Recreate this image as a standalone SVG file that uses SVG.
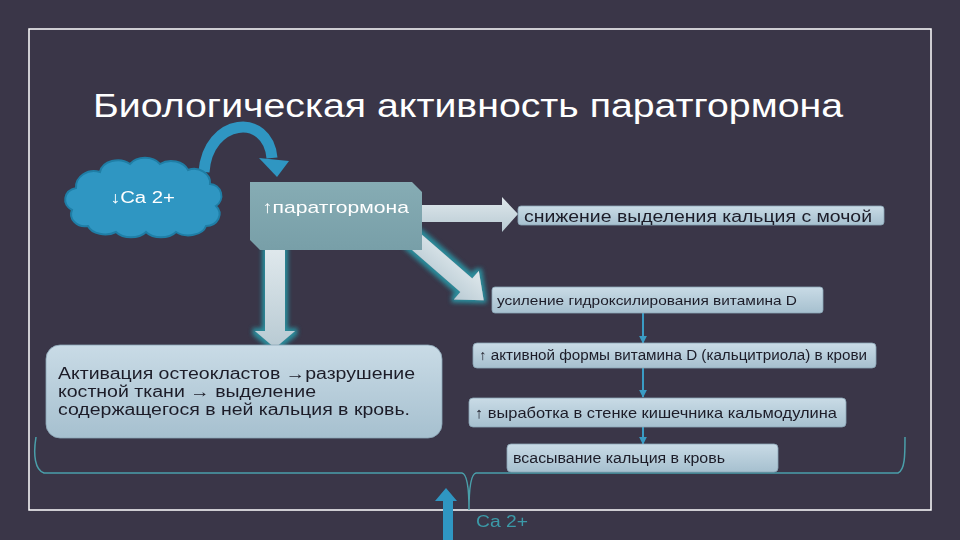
<svg xmlns="http://www.w3.org/2000/svg" width="960" height="540" viewBox="0 0 960 540">
<defs>
<style>
text{font-family:"Liberation Sans","DejaVu Sans",sans-serif;}
.w{fill:#ffffff;}
.d{fill:#1c1c28;}
.box{fill:url(#boxg);stroke:#8aa6b6;stroke-width:0.8;}
.conn{stroke:#3a9cc4;stroke-width:2;fill:none;}
.blue{fill:#2f96c2;}
</style>
<linearGradient id="boxg" x1="0" y1="0" x2="0" y2="1">
<stop offset="0" stop-color="#c9dbe6"/>
<stop offset="1" stop-color="#a6c0cf"/>
</linearGradient>
<linearGradient id="arrg" x1="0" y1="0" x2="0" y2="1">
<stop offset="0" stop-color="#dfe8ec"/>
<stop offset="1" stop-color="#b8cad3"/>
</linearGradient>
<linearGradient id="pthg" x1="0" y1="0" x2="0" y2="1">
<stop offset="0" stop-color="#86acb4"/>
<stop offset="1" stop-color="#789fa8"/>
</linearGradient>
<filter id="glow" x="-30%" y="-30%" width="160%" height="160%">
<feMorphology in="SourceAlpha" operator="dilate" radius="3" result="d"/>
<feGaussianBlur in="d" stdDeviation="2" result="b"/>
<feFlood flood-color="#2a8d9c"/>
<feComposite in2="b" operator="in" result="g"/>
<feMerge><feMergeNode in="g"/><feMergeNode in="SourceGraphic"/></feMerge>
</filter>
<marker id="ah" viewBox="0 0 10 10" refX="9" refY="5" markerWidth="4" markerHeight="4" orient="auto">
<path d="M0,0 L10,5 L0,10 Z" fill="#3a9cc4"/>
</marker>
</defs>
<rect width="960" height="540" fill="#3a3648"/>
<rect x="29" y="29" width="902" height="481" fill="none" stroke="#ffffff" stroke-width="1.5"/>
<text x="93" y="117" class="w" font-size="34" textLength="750" lengthAdjust="spacingAndGlyphs">Биологическая активность паратгормона</text>

<g id="connectors">
<path d="M204 172 C208 118, 268 112, 272 158" stroke="#2f96c2" stroke-width="11" fill="none"/>
<polygon points="259,158 289,161 277,177" class="blue"/>
<polygon points="422,205 502,205 502,197 518,214 502,232 502,222 422,222" fill="url(#arrg)"/>
<g filter="url(#glow)">
<polygon transform="translate(412,238) rotate(41)" points="0,-9 72,-9 72,-19 95,0 72,19 72,9 0,9" fill="url(#arrg)"/>
<polygon points="265,250 285,250 285,331 295,331 275,348 255,331 265,331" fill="url(#arrg)"/>
</g>
<line x1="643" y1="313" x2="643" y2="343" class="conn" marker-end="url(#ah)"/>
<line x1="643" y1="368" x2="643" y2="397" class="conn" marker-end="url(#ah)"/>
<line x1="643" y1="427" x2="643" y2="444" class="conn" marker-end="url(#ah)"/>
<path d="M36 437 C33 455, 35 470, 44 473 L462 473 C467 474, 469 490, 469 510 C469 490, 471 474, 476 473 L898 473 C905 470, 905 455, 905 437" fill="none" stroke="#4a9faa" stroke-width="1.5"/>
<polygon points="446,488 457,501 453,501 453,540 443,540 443,501 435,501" class="blue"/>
</g>

<g id="cloud">
<path d="M72 210 a14 12 0 0 1 4 -22 a18 16 0 0 1 24 -16 a18 14 0 0 1 30 -8 a18 14 0 0 1 30 0 a18 14 0 0 1 28 6 a16 14 0 0 1 22 14 a12 12 0 0 1 6 22 a14 12 0 0 1 -10 20 a18 12 0 0 1 -30 6 a18 12 0 0 1 -30 0 a18 12 0 0 1 -30 0 a18 12 0 0 1 -28 -6 a14 12 0 0 1 -16 -16 Z" fill="#2f96c2" stroke="#1f7ea6" stroke-width="2"/>
<text x="110" y="203" class="w" font-size="16" textLength="65" lengthAdjust="spacingAndGlyphs">↓Ca 2+</text>
</g>

<g id="pth">
<polygon points="250,182 412,182 422,192 422,250 260,250 250,240" fill="url(#pthg)"/>
<text x="262" y="213" class="w" font-size="17" textLength="147" lengthAdjust="spacingAndGlyphs">↑паратгормона</text>
</g>

<g id="urine">
<rect x="518" y="206" width="366" height="19" rx="3" class="box"/>
<text x="524" y="222" class="d" font-size="16" textLength="348" lengthAdjust="spacingAndGlyphs">снижение выделения кальция с мочой</text>
</g>

<g id="hydroxy">
<rect x="492" y="287" width="331" height="26" rx="3" class="box"/>
<text x="497" y="305" class="d" font-size="13" textLength="300" lengthAdjust="spacingAndGlyphs">усиление гидроксилирования витамина D</text>
</g>

<g id="calcitriol">
<rect x="473" y="343" width="403" height="25" rx="4" class="box"/>
<text x="479" y="360" class="d" font-size="14" textLength="388" lengthAdjust="spacingAndGlyphs">↑ активной формы витамина D (кальцитриола) в крови</text>
</g>

<g id="calmodulin">
<rect x="469" y="398" width="377" height="29" rx="4" class="box"/>
<text x="475" y="418" class="d" font-size="15" textLength="362" lengthAdjust="spacingAndGlyphs">↑ выработка в стенке кишечника кальмодулина</text>
</g>

<g id="absorb">
<rect x="507" y="444" width="271" height="28" rx="4" class="box"/>
<text x="513" y="463" class="d" font-size="14" textLength="212" lengthAdjust="spacingAndGlyphs">всасывание кальция в кровь</text>
</g>

<g id="osteoclast">
<rect x="46" y="345" width="396" height="93" rx="14" class="box"/>
<text class="d" font-size="16">
<tspan x="58" y="379" textLength="357" lengthAdjust="spacingAndGlyphs">Активация остеокластов →разрушение</tspan>
<tspan x="58" y="397" textLength="258" lengthAdjust="spacingAndGlyphs">костной ткани  → выделение</tspan>
<tspan x="58" y="415" textLength="352" lengthAdjust="spacingAndGlyphs">содержащегося в ней кальция в кровь.</tspan>
</text>
</g>

<text x="476" y="527" font-size="16" fill="#3b9aa8" textLength="52" lengthAdjust="spacingAndGlyphs">Ca 2+</text>
</svg>
